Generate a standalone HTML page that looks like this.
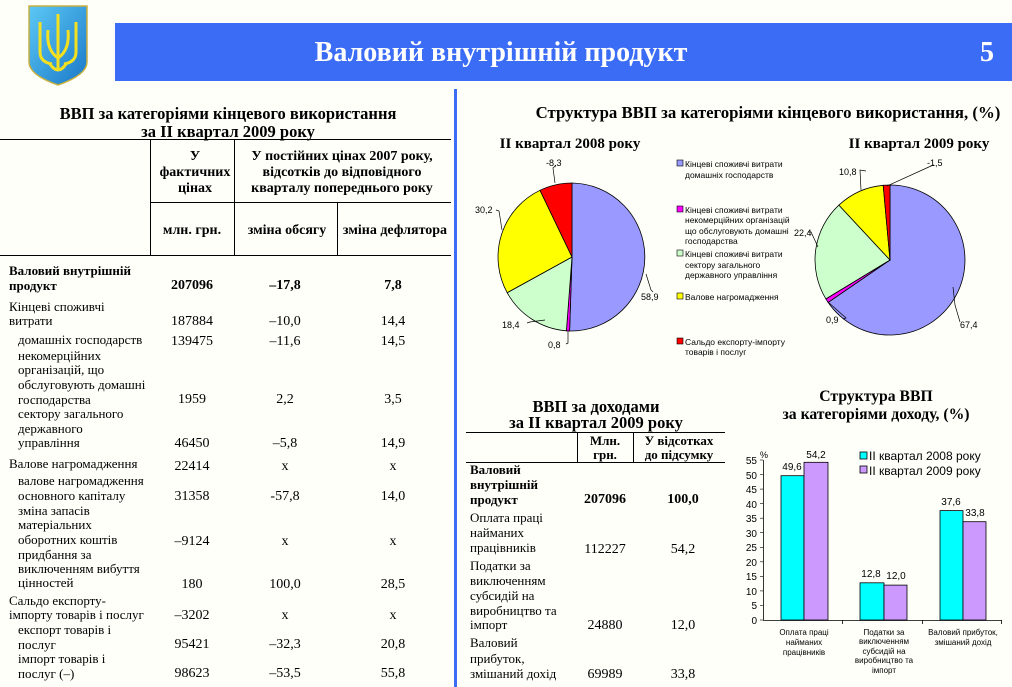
<!DOCTYPE html>
<html><head><meta charset="utf-8"><style>
html,body{margin:0;padding:0;background:#fffffa;}
svg{display:block}
.s{font-family:"Liberation Serif",serif;font-size:13px;fill:#000}
.t{font-size:12.5px}
.b{font-weight:bold}
.a{font-family:"Liberation Sans",sans-serif;font-size:9px;fill:#000}
.m{text-anchor:middle}
.e{text-anchor:end}
</style></head><body>
<svg width="1012" height="687" viewBox="0 0 1012 687" xmlns="http://www.w3.org/2000/svg">
<rect width="1012" height="687" fill="#fffffa"/>
<defs><linearGradient id="g" x1="0" y1="0" x2="1" y2="1"><stop offset="0" stop-color="#5cc8f5"/><stop offset="1" stop-color="#1a78c8"/></linearGradient></defs>
<path d="M29,6 L87,6 L87,62 Q87,75 58,85 Q29,75 29,62 Z" fill="url(#g)" stroke="#c8b040" stroke-width="1.5"/>
<path d="M58,14 L58,70 M40,22 L40,52 Q40,62 52,64 M76,22 L76,52 Q76,62 64,64 M48,30 Q46,50 58,58 Q70,50 68,30 M50,64 Q58,76 66,64" fill="none" stroke="#f5e020" stroke-width="3"/>
<rect x="115" y="23" width="897" height="58" fill="#3b6cf6"/>
<text x="501" y="61" class="s b m" style="font-size:28px;fill:#fff">Валовий внутрішній продукт</text>
<text x="987" y="61" class="s b m" style="font-size:28px;fill:#fff">5</text>
<rect x="454" y="89" width="3" height="598" fill="#3b6cf6"/>

<text x="228" y="119" class="s b m" style="font-size:16.5px">ВВП за категоріями кінцевого використання</text>
<text x="228" y="137" class="s b m" style="font-size:16.5px">за II квартал 2009 року</text>
<g stroke="#000" stroke-width="1">
<line x1="0" y1="139.5" x2="451" y2="139.5"/>
<line x1="150.5" y1="139" x2="150.5" y2="255"/>
<line x1="234.5" y1="139" x2="234.5" y2="255"/>
<line x1="337.5" y1="202" x2="337.5" y2="255"/>
<line x1="150" y1="202.5" x2="451" y2="202.5"/>
<line x1="0" y1="255.5" x2="451" y2="255.5"/>
</g>
<g class="s b m" style="font-size:14px">
<text x="195" y="160">У</text><text x="195" y="176">фактичних</text><text x="195" y="192">цінах</text>
<text x="342" y="160">У постійних цінах 2007 року,</text><text x="342" y="176">відсотків до відповідного</text><text x="342" y="192">кварталу попереднього року</text>
<text x="192" y="234">млн. грн.</text><text x="287" y="234">зміна обсягу</text><text x="395" y="234">зміна дефлятора</text>
</g>
<g class="s b"><text x="9" y="275">Валовий внутрішній</text><text x="9" y="290">продукт</text></g>
<g class="s b m" style="font-size:14px"><text x="192" y="289">207096</text><text x="285" y="289">–17,8</text><text x="393" y="289">7,8</text></g>
<g class="s">
<text x="9" y="311">Кінцеві споживчі</text><text x="9" y="325">витрати</text>
<text x="18" y="344">домашніх господарств</text>
<text x="18" y="360">некомерційних</text><text x="18" y="374">організацій, що</text><text x="18" y="389">обслуговують домашні</text><text x="18" y="404">господарства</text>
<text x="18" y="418">сектору загального</text><text x="18" y="433">державного</text><text x="18" y="447">управління</text>
<text x="9" y="468">Валове нагромадження</text>
<text x="18" y="485">валове нагромадження</text><text x="18" y="500">основного капіталу</text>
<text x="18" y="515">зміна запасів</text><text x="18" y="529">матеріальних</text><text x="18" y="544">оборотних коштів</text>
<text x="18" y="559">придбання за</text><text x="18" y="573">виключенням вибуття</text><text x="18" y="587">цінностей</text>
<text x="9" y="605">Сальдо експорту-</text><text x="9" y="619">імпорту товарів і послуг</text>
<text x="18" y="634">експорт товарів і</text><text x="18" y="649">послуг</text>
<text x="18" y="663">імпорт товарів і</text><text x="18" y="678">послуг (–)</text>
</g>
<g class="s m" style="font-size:14px">
<text x="192" y="325">187884</text><text x="285" y="325">–10,0</text><text x="393" y="325">14,4</text>
<text x="192" y="345">139475</text><text x="285" y="345">–11,6</text><text x="393" y="345">14,5</text>
<text x="192" y="403">1959</text><text x="285" y="403">2,2</text><text x="393" y="403">3,5</text>
<text x="192" y="447">46450</text><text x="285" y="447">–5,8</text><text x="393" y="447">14,9</text>
<text x="192" y="470">22414</text><text x="285" y="470">x</text><text x="393" y="470">x</text>
<text x="192" y="500">31358</text><text x="285" y="500">-57,8</text><text x="393" y="500">14,0</text>
<text x="192" y="545">–9124</text><text x="285" y="545">x</text><text x="393" y="545">x</text>
<text x="192" y="588">180</text><text x="285" y="588">100,0</text><text x="393" y="588">28,5</text>
<text x="192" y="619">–3202</text><text x="285" y="619">x</text><text x="393" y="619">x</text>
<text x="192" y="648">95421</text><text x="285" y="648">–32,3</text><text x="393" y="648">20,8</text>
<text x="192" y="677">98623</text><text x="285" y="677">–53,5</text><text x="393" y="677">55,8</text>
</g>

<text x="768" y="118" class="s b m" style="font-size:16.8px">Структура ВВП за категоріями кінцевого використання, (%)</text>
<text x="570" y="148" class="s b m" style="font-size:15px">II квартал 2008 року</text>
<text x="919" y="148" class="s b m" style="font-size:15px">II квартал 2009 року</text>
<g stroke="#000" stroke-width="0.8">
<path d="M572,257 L572,183 A74,74 0 1 1 569.6,331 Z" fill="#9999ff"/>
<path d="M572,257 L569.6,331 A74,74 0 0 1 566.4,330.8 Z" fill="#ff00ff"/>
<path d="M572,257 L566.4,330.8 A74,74 0 0 1 507.2,292.7 Z" fill="#ccffcc"/>
<path d="M572,257 L507.2,292.7 A74,74 0 0 1 540,190.3 Z" fill="#ffff00"/>
<path d="M572,257 L540,190.3 A74,74 0 0 1 572,183 Z" fill="#ff0000"/>
<path d="M890,260 L890,185 A75,75 0 1 1 828.1,302.4 Z" fill="#9999ff"/>
<path d="M890,260 L828.1,302.4 A75,75 0 0 1 825.9,298.9 Z" fill="#ff00ff"/>
<path d="M890,260 L825.9,298.9 A75,75 0 0 1 838.9,205.1 Z" fill="#ccffcc"/>
<path d="M890,260 L838.9,205.1 A75,75 0 0 1 883.2,185.3 Z" fill="#ffff00"/>
<path d="M890,260 L883.2,185.3 A75,75 0 0 1 890,185 Z" fill="#ff0000"/>
</g>
<g fill="none" stroke="#000" stroke-width="0.7">
<polyline points="556,165 553,168 555,183"/>
<polyline points="496,210 499,211 502,230"/>
<polyline points="646,274 651,290 653,292"/>
<polyline points="527,323 530,322 545,320"/>
<polyline points="566,344 568,343 568,331"/>
<polyline points="934,165 931,166 887,186"/>
<polyline points="866,171 860,170 861,190"/>
<polyline points="808,232 811,232 818,247"/>
<polyline points="843,319 846,318 828,302"/>
<polyline points="953,287 955,305 960,322"/>
</g>
<g class="a">
<text x="546" y="166">-8,3</text><text x="475" y="213">30,2</text><text x="641" y="300">58,9</text>
<text x="502" y="328">18,4</text><text x="548" y="348">0,8</text>
<text x="927" y="166">-1,5</text><text x="839" y="175">10,8</text><text x="794" y="236">22,4</text>
<text x="826" y="323">0,9</text><text x="960" y="328">67,4</text>
</g>
<g stroke="#000" stroke-width="0.6">
<rect x="677" y="160" width="6" height="6" fill="#9999ff"/>
<rect x="677" y="206" width="6" height="6" fill="#ff00ff"/>
<rect x="677" y="250" width="6" height="6" fill="#ccffcc"/>
<rect x="677" y="293" width="6" height="6" fill="#ffff00"/>
<rect x="677" y="338" width="6" height="6" fill="#ff0000"/>
</g>
<g class="a" style="font-size:8.5px">
<text x="685" y="167">Кінцеві споживчі витрати</text><text x="685" y="178">домашніх господарств</text>
<text x="685" y="213">Кінцеві споживчі витрати</text><text x="685" y="223">некомерційних організацій</text><text x="685" y="234">що обслуговують домашні</text><text x="685" y="244">господарства</text>
<text x="685" y="257">Кінцеві споживчі витрати</text><text x="685" y="268">сектору загального</text><text x="685" y="278">державного управління</text>
<text x="685" y="300">Валове нагромадження</text>
<text x="685" y="345">Сальдо експорту-імпорту</text><text x="685" y="355">товарів і послуг</text>
</g>

<text x="596" y="412" class="s b m" style="font-size:16.5px">ВВП за доходами</text>
<text x="596" y="428" class="s b m" style="font-size:16.5px">за II квартал 2009 року</text>
<g stroke="#000" stroke-width="1">
<line x1="466" y1="432.5" x2="725" y2="432.5"/>
<line x1="577.5" y1="432" x2="577.5" y2="462"/>
<line x1="633.5" y1="432" x2="633.5" y2="462"/>
<line x1="466" y1="462.5" x2="725" y2="462.5"/>
</g>
<g class="s b m"><text x="605" y="445">Млн.</text><text x="605" y="459">грн.</text><text x="679" y="445">У відсотках</text><text x="679" y="459">до підсумку</text></g>
<g class="s b"><text x="470" y="474">Валовий</text><text x="470" y="489">внутрішній</text><text x="470" y="504">продукт</text></g>
<g class="s b m" style="font-size:14px"><text x="605" y="503">207096</text><text x="683" y="503">100,0</text></g>
<g class="s">
<text x="470" y="522">Оплата праці</text><text x="470" y="537">найманих</text><text x="470" y="552">працівників</text>
<text x="470" y="570">Податки за</text><text x="470" y="585">виключенням</text><text x="470" y="600">субсидій на</text><text x="470" y="615">виробництво та</text><text x="470" y="629">імпорт</text>
<text x="470" y="647">Валовий</text><text x="470" y="663">прибуток,</text><text x="470" y="678">змішаний дохід</text>
</g>
<g class="s m" style="font-size:14px">
<text x="605" y="553">112227</text><text x="683" y="553">54,2</text>
<text x="605" y="629">24880</text><text x="683" y="629">12,0</text>
<text x="605" y="678">69989</text><text x="683" y="678">33,8</text>
</g>

<text x="876" y="401" class="s b m" style="font-size:15.7px">Структура ВВП</text>
<text x="876" y="419" class="s b m" style="font-size:15.7px">за категоріями доходу, (%)</text>
<g stroke="#000" stroke-width="0.8">
<rect x="781" y="475.7" width="23" height="144.3" fill="#00ffff"/>
<rect x="804" y="462.3" width="24" height="157.7" fill="#cc99ff"/>
<rect x="860" y="582.8" width="24" height="37.2" fill="#00ffff"/>
<rect x="884" y="585.1" width="23" height="34.9" fill="#cc99ff"/>
<rect x="940" y="510.6" width="23" height="109.4" fill="#00ffff"/>
<rect x="963" y="521.7" width="23" height="98.3" fill="#cc99ff"/>
<line x1="763.5" y1="460" x2="763.5" y2="620"/>
<line x1="763" y1="620.5" x2="1002" y2="620.5"/>
<line x1="842.5" y1="620" x2="842.5" y2="624"/><line x1="922.5" y1="620" x2="922.5" y2="624"/><line x1="1001.5" y1="620" x2="1001.5" y2="624"/>
<g stroke-width="0.6">
<line x1="760" y1="620" x2="763" y2="620"/><line x1="760" y1="605.5" x2="763" y2="605.5"/><line x1="760" y1="590.9" x2="763" y2="590.9"/><line x1="760" y1="576.4" x2="763" y2="576.4"/><line x1="760" y1="561.8" x2="763" y2="561.8"/><line x1="760" y1="547.3" x2="763" y2="547.3"/><line x1="760" y1="532.7" x2="763" y2="532.7"/><line x1="760" y1="518.2" x2="763" y2="518.2"/><line x1="760" y1="503.6" x2="763" y2="503.6"/><line x1="760" y1="489.1" x2="763" y2="489.1"/><line x1="760" y1="474.5" x2="763" y2="474.5"/><line x1="760" y1="460" x2="763" y2="460"/>
</g>
<rect x="860" y="452" width="7" height="7" fill="#00ffff"/>
<rect x="860" y="466" width="7" height="7" fill="#cc99ff"/>
</g>
<g class="a e" style="font-size:10px">
<text x="757" y="624">0</text><text x="757" y="609">5</text><text x="757" y="595">10</text><text x="757" y="580">15</text><text x="757" y="566">20</text><text x="757" y="551">25</text><text x="757" y="537">30</text><text x="757" y="522">35</text><text x="757" y="508">40</text><text x="757" y="493">45</text><text x="757" y="479">50</text><text x="757" y="464">55</text>
</g>
<text x="760" y="458" class="a">%</text>
<g class="a m" style="font-size:10px">
<text x="792" y="470">49,6</text><text x="816" y="458">54,2</text>
<text x="871" y="577">12,8</text><text x="896" y="579">12,0</text>
<text x="951" y="505">37,6</text><text x="975" y="516">33,8</text>
</g>
<text x="869" y="460" class="a" style="font-size:12px">II квартал 2008 року</text>
<text x="869" y="475" class="a" style="font-size:12px">II квартал 2009 року</text>
<g class="a m" style="font-size:8px">
<text x="804" y="635">Оплата праці</text><text x="804" y="645">найманих</text><text x="804" y="655">працівників</text>
<text x="884" y="635">Податки за</text><text x="884" y="644">виключенням</text><text x="884" y="654">субсидій на</text><text x="884" y="663">виробництво та</text><text x="884" y="673">імпорт</text>
<text x="963" y="635">Валовий прибуток,</text><text x="963" y="645">змішаний дохід</text>
</g>
</svg>
</body></html>
